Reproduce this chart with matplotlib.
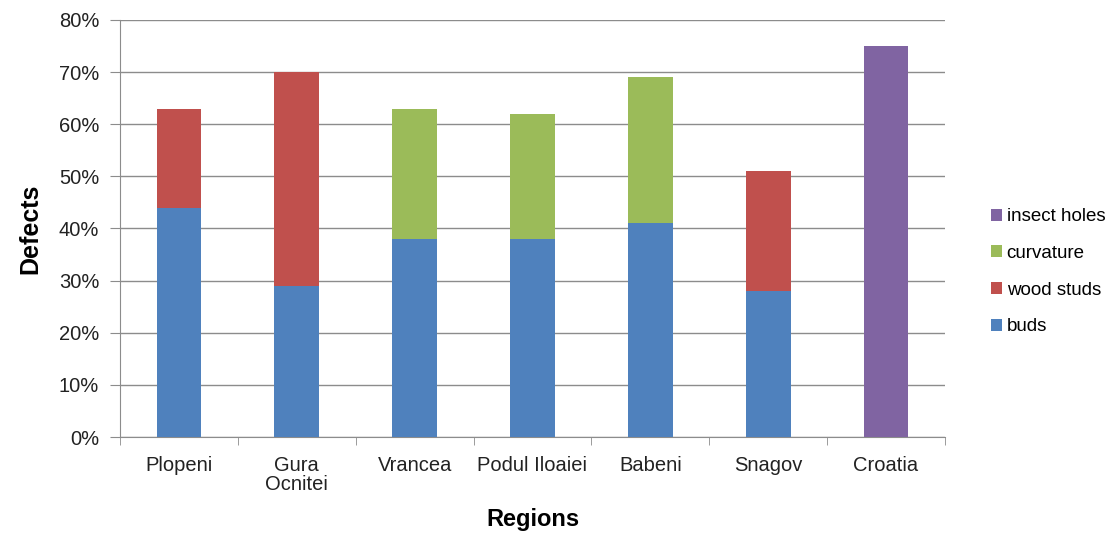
import numpy as np
import matplotlib
matplotlib.use("Agg")
import matplotlib.pyplot as plt
from matplotlib.patches import Patch

plt.rcParams['font.family'] = ['Liberation Sans', 'DejaVu Sans']

regions = ["Plopeni", "Gura\nOcnitei", "Vrancea", "Podul Iloaiei", "Babeni", "Snagov", "Croatia"]
buds = [44, 29, 38, 38, 41, 28, 0]
wood_studs = [19, 41, 0, 0, 0, 23, 0]
curvature = [0, 0, 25, 24, 28, 0, 0]
insect_holes = [0, 0, 0, 0, 0, 0, 75]

series = [
    ("buds", buds, "#4f81bd"),
    ("wood studs", wood_studs, "#c0504d"),
    ("curvature", curvature, "#9bbb59"),
    ("insect holes", insect_holes, "#8064a2"),
]

fig = plt.figure(figsize=(11.15, 5.33), dpi=100)
ax = fig.add_axes([0.1076, 0.1801, 0.7399, 0.7824])

x = np.arange(len(regions))
bottom = np.zeros(len(regions))
for name, vals, col in series:
    vals = np.array(vals, dtype=float)
    ax.bar(x, vals, bottom=bottom, width=0.38, color=col, zorder=3)
    bottom += vals

ax.set_xlim(-0.5, len(regions) - 0.5)
ax.set_ylim(0, 80)
ax.set_yticks(np.arange(0, 81, 10))
ax.set_yticklabels([f"{v}%" for v in range(0, 81, 10)], fontsize=14.5, color="#222222")
ax.yaxis.grid(True, color="#8c8c8c", linewidth=1, zorder=0)

ax.set_xticks(x)
ax.set_xticklabels(regions, fontsize=14.5, color="#222222", linespacing=1.0)
ax.set_xticks(np.arange(-0.5, len(regions)), minor=True)
ax.tick_params(axis="x", which="major", length=0, pad=14)
ax.tick_params(axis="x", which="minor", length=6, color="#8c8c8c", direction="out")
ax.tick_params(axis="y", length=7, color="#8c8c8c", direction="out", pad=8)

for s in ["top", "right"]:
    ax.spines[s].set_visible(False)
for s in ["left", "bottom"]:
    ax.spines[s].set_color("#8c8c8c")

ax.set_ylabel("Defects", fontsize=18, fontweight="bold", labelpad=12)
ax.set_xlabel("Regions", fontsize=17, fontweight="bold", labelpad=10)

handles = [Patch(facecolor=col, label=name) for name, vals, col in series][::-1]
ax.legend(handles=handles, loc="center left", bbox_to_anchor=(1.035, 0.396), frameon=False,
          fontsize=13.5, handlelength=0.6, handleheight=0.6, handletextpad=0.25,
          labelspacing=1.05)

fig.savefig("out.png", dpi=100)
